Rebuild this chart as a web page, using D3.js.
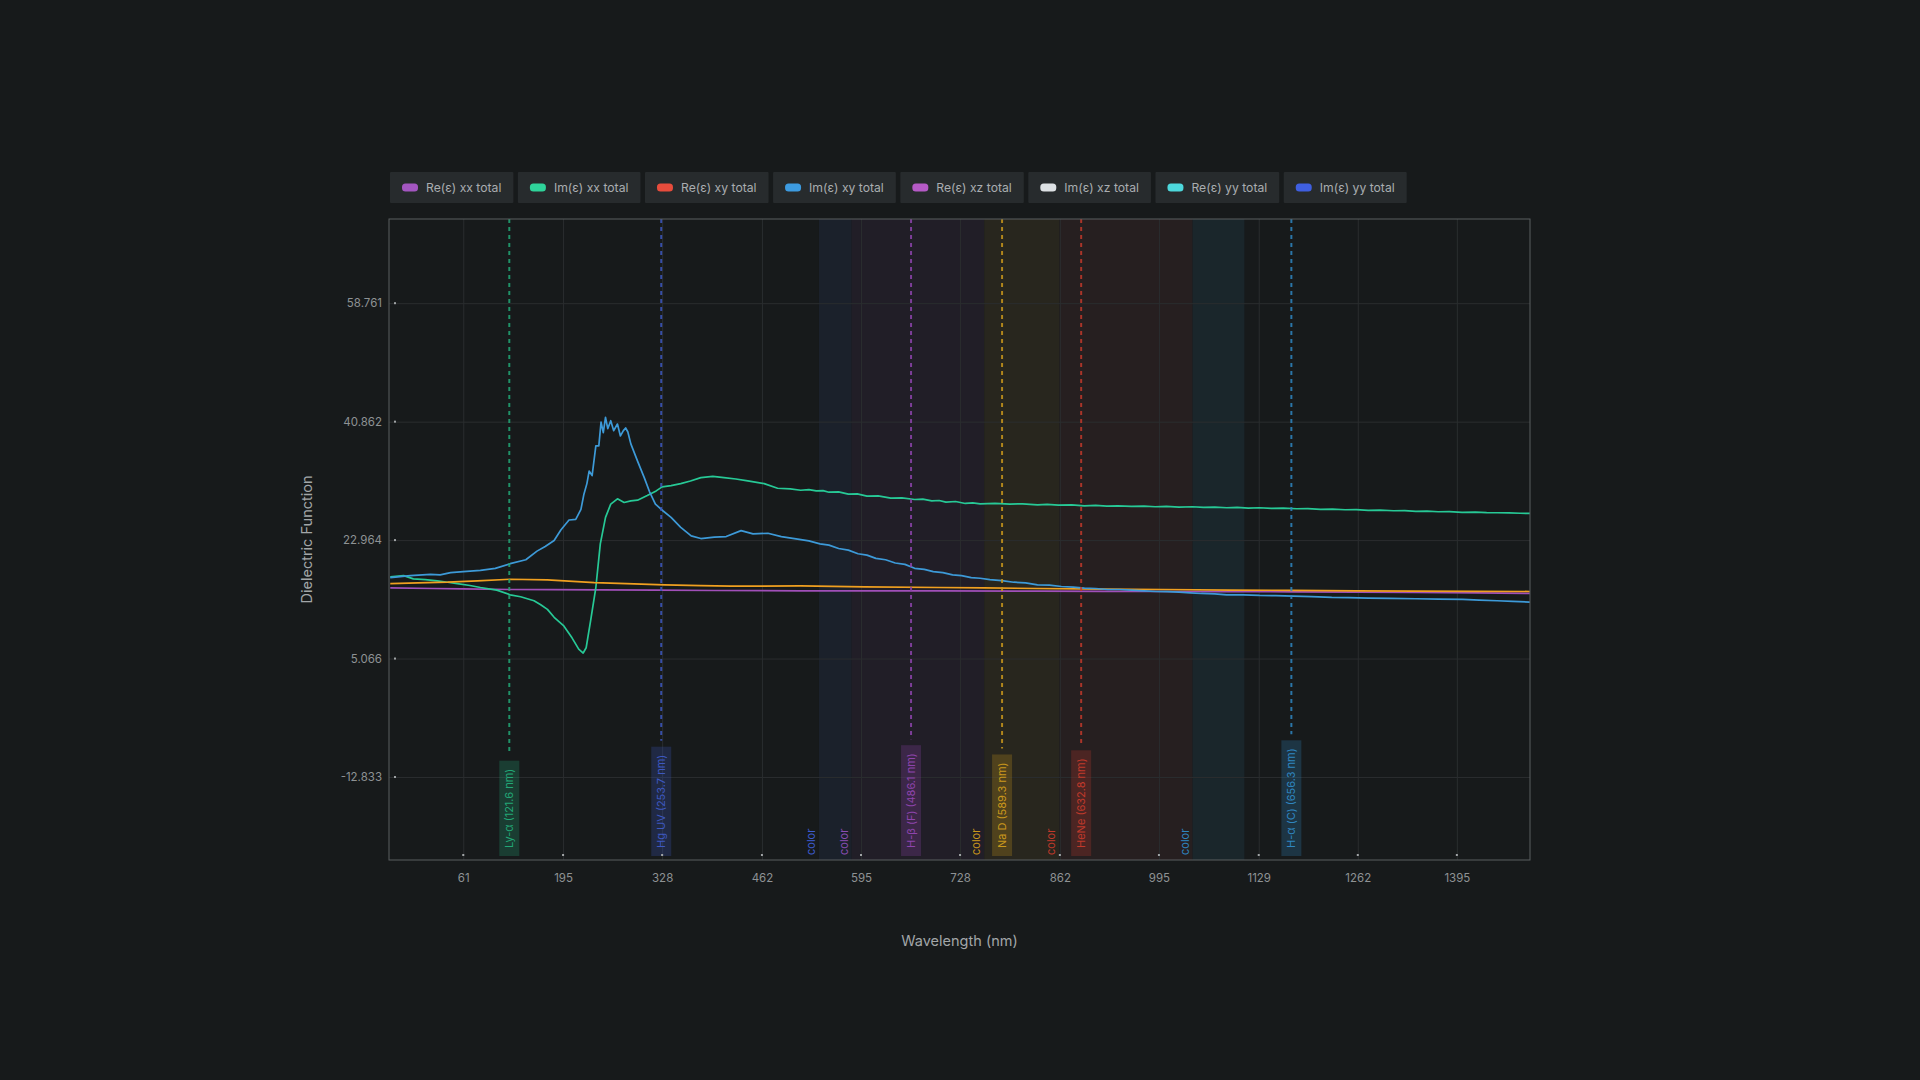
<!DOCTYPE html>
<html><head><meta charset="utf-8">
<script src="https://cdn.jsdelivr.net/npm/d3@7"></script>
<style>
html,body{margin:0;padding:0;background:#171a1b;}
svg{display:block;font-family:Inter,'Noto Sans',sans-serif;}
</style></head><body>
<svg id="chart" width="1920" height="1080"></svg>
<script>
// ---------- data ----------
const legendNames = ['Re(ε) xx total','Im(ε) xx total','Re(ε) xy total','Im(ε) xy total','Re(ε) xz total','Im(ε) xz total','Re(ε) yy total','Im(ε) yy total'];
const legendColors = ['#a356c0','#2fd39a','#e74c3c','#3d9be0','#b55ac6','#dde1e4','#4dd8dc','#3f5fe0'];

const xTicks = [61,195,328,462,595,728,862,995,1129,1262,1395];
const yTicks = [-12.833,5.066,22.964,40.862,58.761];
const xDomain = [-38.7,1493.2];
const yDomain = [-25.37,71.48];

// Re(ε) xx
const reXx = [[-37,15.75],[20,15.65],[60,15.6],[124,15.5],[180,15.48],[246,15.45],[320,15.4],[400,15.35],[514,15.3],[600,15.3],[700,15.28],[832,15.25],[920,15.22],[1000,15.2],[1090,15.18],[1174,15.15],[1260,15.1],[1340,15.05],[1420,14.98],[1493,14.9]];
// Im(ε) xx
const imXx = [[-37,17.4],[-19,17.6],[-6,17.1],[10,17.0],[26,16.8],[40,16.6],[53,16.4],[70,16.1],[84,15.8],[106,15.4],[124,14.7],[138,14.4],[156,13.8],[165,13.2],[174,12.5],[183,11.3],[196,10.0],[207,8.2],[216,6.5],[222,5.9],[226,6.7],[232,10.8],[239,15.8],[245,22.4],[252,26.4],[259,28.4],[268,29.2],[277,28.65],[286,28.9],[295,29.0],[308,29.7],[320,30.4],[328,31.0],[340,31.2],[353,31.5],[366,31.9],[380,32.4],[396,32.6],[411,32.4],[427,32.2],[443,31.9],[465,31.5],[483,30.8],[500,30.7],[514,30.5],[525,30.6],[535,30.4],[544,30.45],[552,30.2],[565,30.25],[578,29.9],[590,29.95],[603,29.6],[618,29.65],[635,29.3],[650,29.35],[667,29.1],[678,29.15],[690,28.9],[700,28.95],[709,28.7],[722,28.8],[735,28.5],[745,28.6],[755,28.45],[775,28.5],[795,28.4],[812,28.45],[832,28.3],[845,28.35],[860,28.25],[878,28.3],[895,28.15],[910,28.2],[925,28.1],[940,28.15],[958,28.05],[975,28.1],[990,28.0],[1005,28.05],[1022,27.95],[1040,28.0],[1055,27.9],[1070,27.95],[1086,27.85],[1100,27.9],[1115,27.8],[1130,27.85],[1146,27.75],[1162,27.8],[1180,27.7],[1195,27.72],[1212,27.6],[1228,27.65],[1245,27.55],[1260,27.58],[1276,27.45],[1292,27.5],[1310,27.4],[1325,27.42],[1340,27.3],[1355,27.35],[1370,27.25],[1385,27.28],[1402,27.15],[1420,27.2],[1435,27.12],[1449,27.1],[1465,27.08],[1480,27.02],[1493,27.0]];
// Re(ε) xy
const reXy = [[-37,16.4],[0,16.5],[40,16.6],[80,16.8],[124,17.05],[174,16.95],[237,16.55],[280,16.4],[331,16.2],[380,16.1],[420,16.0],[514,16.05],[600,15.9],[700,15.8],[760,15.75],[832,15.65],[920,15.55],[1000,15.5],[1090,15.42],[1174,15.37],[1260,15.3],[1340,15.27],[1420,15.22],[1493,15.2]];
// Im(ε) xy
const imXy = [[-37,17.3],[-10,17.6],[17,17.8],[30,17.7],[44,18.05],[61,18.2],[84,18.4],[104,18.7],[124,19.4],[145,20.0],[160,21.3],[171,22.0],[183,22.9],[192,24.5],[203,26.0],[212,26.1],[219,27.6],[223,29.9],[227,31.5],[230,33.4],[234,32.7],[239,37.2],[243,37.2],[246,40.8],[249,39.2],[252,41.5],[255,39.8],[259,41.0],[263,39.5],[268,40.5],[272,38.7],[276,39.5],[279,39.9],[282,39.3],[286,37.5],[295,34.9],[304,32.4],[311,30.3],[319,28.4],[329,27.4],[340,26.4],[353,24.9],[367,23.6],[380,23.2],[398,23.4],[414,23.5],[434,24.4],[450,23.9],[470,24.0],[488,23.5],[510,23.1],[525,22.85],[540,22.4],[552,22.2],[565,21.7],[578,21.45],[591,20.9],[603,20.7],[615,20.2],[628,20.0],[641,19.5],[654,19.3],[667,18.7],[680,18.55],[692,18.2],[705,18.05],[718,17.7],[730,17.6],[743,17.3],[755,17.2],[768,17.0],[784,16.85],[800,16.6],[816,16.5],[832,16.2],[848,16.15],[864,15.95],[880,15.85],[895,15.7],[910,15.65],[926,15.5],[942,15.5],[958,15.4],[975,15.3],[991,15.2],[1006,15.18],[1022,15.1],[1037,15.0],[1052,14.9],[1070,14.85],[1086,14.7],[1108,14.68],[1130,14.6],[1152,14.58],[1175,14.5],[1200,14.42],[1227,14.3],[1250,14.28],[1276,14.2],[1305,14.15],[1340,14.1],[1370,14.06],[1403,14.0],[1425,13.9],[1449,13.8],[1470,13.72],[1493,13.6]];

const seriesData = [reXx, imXx, reXy, imXy];
const seriesColors = ['#a04fb8','#27c996','#f0a020','#3d9ad8'];

const markerNames = ['Ly-α (121.6 nm)','Hg UV (253.7 nm)','H-β (F) (486.1 nm)','Na D (589.3 nm)','HeNe (632.8 nm)','H-α (C) (656.3 nm)'];
const markerPos = [122.8,326.8,662.2,784.4,890.6,1172.8];
const markerColors = ['#22a776','#3d58c0','#8e44ad','#c9971c','#c0392b','#2f86c0'];

const bandStart = [538.6,582.5,760.5,861.5,1040.2];
const bandEnd = [582.5,760.5,861.5,1040.2,1109.7];
const bandFills = ['#1b212b','#211e27','#28261e','#261f20','#1a262b'];
const bandLabelColors = ['#3d5ccf','#8a4db3','#c9971c','#c0392b','#2f86c0'];
const bandLabel = 'color';

// ---------- layout ----------
const svg = d3.select('#chart');
const P = {left:389, top:219, right:1530, bottom:860};
const x = d3.scaleLinear().domain(xDomain).range([P.left,P.right]);
const y = d3.scaleLinear().domain(yDomain).range([P.bottom,P.top]);

svg.append('rect').attr('width',1920).attr('height',1080).attr('fill','#171a1b');

// bands
svg.append('g').selectAll('rect').data(bandStart).join('rect')
  .attr('x',d=>x(d)).attr('y',P.top)
  .attr('width',(d,i)=>x(bandEnd[i])-x(d)).attr('height',P.bottom-P.top)
  .attr('fill',(d,i)=>bandFills[i]);

// grid
const gx = svg.append('g').attr('transform',`translate(0,${P.bottom})`)
  .call(d3.axisBottom(x).tickValues(xTicks).tickSize(-(P.bottom-P.top)).tickFormat(''));
gx.select('.domain').remove();
gx.selectAll('line').attr('stroke','#2a2d2f').attr('stroke-width',1);
const gy = svg.append('g').attr('transform',`translate(${P.left},0)`)
  .call(d3.axisLeft(y).tickValues(yTicks).tickSize(-(P.right-P.left)).tickFormat(''));
gy.select('.domain').remove();
gy.selectAll('line').attr('stroke','#2a2d2f').attr('stroke-width',1);

// band labels
svg.append('g').selectAll('text').data(bandStart).join('text')
  .attr('transform',d=>`translate(${x(d)-4},${P.bottom-5}) rotate(-90)`)
  .attr('fill',(d,i)=>bandLabelColors[i])
  .attr('font-size',11).text(bandLabel);

// lines
const line = d3.line().x(d=>x(d[0])).y(d=>y(d[1])).curve(d3.curveLinear);
svg.append('g').selectAll('path').data(seriesData).join('path')
  .attr('d',line).attr('fill','none')
  .attr('stroke',(d,i)=>seriesColors[i]).attr('stroke-width',1.7)
  .attr('stroke-linejoin','round');

// markers
const mg = svg.append('g');
markerPos.forEach((p,i)=>{
  const g = mg.append('g');
  const cx = x(p);
  const t = g.append('text').attr('font-size',11).attr('fill',markerColors[i]).text(markerNames[i]);
  const len = t.node().getComputedTextLength();
  const boxBottom = P.bottom-4;
  const boxTop = boxBottom - len - 16;
  g.insert('rect','text').attr('x',cx-10).attr('y',boxTop).attr('width',20).attr('height',boxBottom-boxTop)
    .attr('fill',markerColors[i]).attr('fill-opacity',0.25);
  t.attr('transform',`translate(${cx+4},${boxBottom-8}) rotate(-90)`);
  g.insert('line','rect').attr('x1',cx).attr('x2',cx).attr('y1',P.top).attr('y2',boxTop-6)
    .attr('stroke',markerColors[i]).attr('stroke-width',2).attr('stroke-dasharray','4,4').attr('opacity',0.85);
});

// frame
svg.append('rect').attr('x',P.left).attr('y',P.top).attr('width',P.right-P.left).attr('height',P.bottom-P.top)
  .attr('fill','none').attr('stroke','#5a5e60').attr('stroke-width',1);

// tick dots
svg.append('g').selectAll('rect').data(xTicks).join('rect')
  .attr('x',d=>x(d)-1).attr('y',P.bottom-6).attr('width',2).attr('height',2).attr('fill','#a0a4a6');
svg.append('g').selectAll('rect').data(yTicks).join('rect')
  .attr('x',P.left+5).attr('y',d=>y(d)-1).attr('width',2).attr('height',2).attr('fill','#a0a4a6');

// axis labels
const ax = svg.append('g').attr('transform',`translate(0,${P.bottom})`)
  .call(d3.axisBottom(x).tickValues(xTicks).tickSize(0).tickPadding(14).tickFormat(d=>d));
ax.select('.domain').remove();
ax.selectAll('text').attr('fill','#8e9294').attr('font-size',11.5).attr('font-family','Inter');
const ay = svg.append('g').attr('transform',`translate(${P.left},0)`)
  .call(d3.axisLeft(y).tickValues(yTicks).tickSize(0).tickPadding(7).tickFormat(d=>d.toFixed(3)));
ay.select('.domain').remove();
ay.selectAll('text').attr('fill','#8e9294').attr('font-size',11.5).attr('font-family','Inter');

// titles
svg.append('text').attr('x',(P.left+P.right)/2).attr('y',946).attr('text-anchor','middle')
  .attr('fill','#a2a6a8').attr('font-size',14.5).text('Wavelength (nm)');
svg.append('text').attr('transform',`translate(312,${(P.top+P.bottom)/2}) rotate(-90)`).attr('text-anchor','middle')
  .attr('fill','#a2a6a8').attr('font-size',14.5).text('Dielectric Function');

// legend
const lg = svg.append('g');
let lx = P.left+1;
legendNames.forEach((n,i)=>{
  const g = lg.append('g').attr('transform',`translate(${lx},172)`);
  const rect = g.append('rect').attr('height',31).attr('fill','#272b2d').attr('rx',1);
  g.append('rect').attr('x',12).attr('y',11.5).attr('width',16).attr('height',8).attr('rx',3.5).attr('fill',legendColors[i]);
  const t = g.append('text').attr('x',36).attr('y',20).attr('font-size',12.2).attr('fill','#a9adb0').text(n);
  const w = 36 + t.node().getComputedTextLength() + 12;
  rect.attr('width',w);
  lx += w + 4.5;
});
</script>
</body></html>
